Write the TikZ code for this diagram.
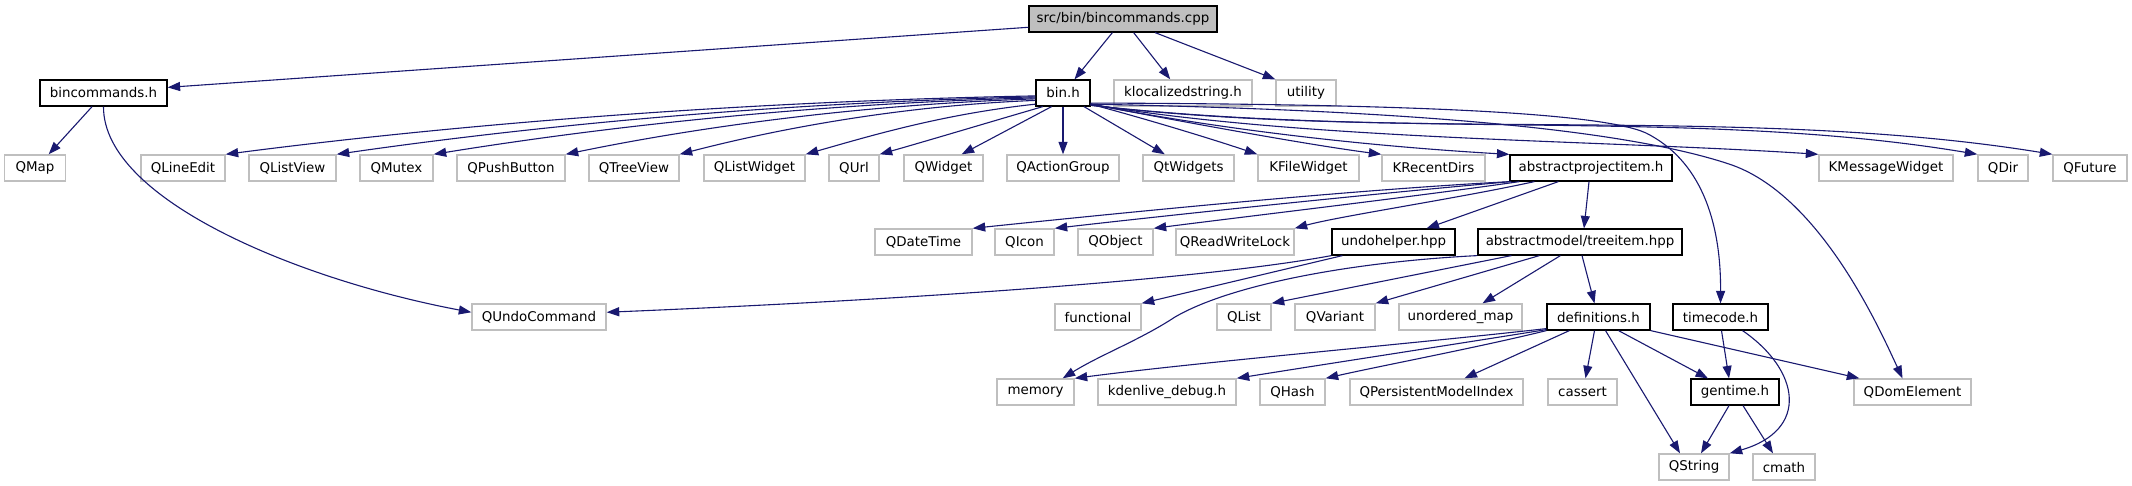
\documentclass[tikz,border=0pt]{standalone}
\usepackage{fontspec}
\setmainfont{DejaVu Sans}
\usetikzlibrary{arrows.meta}
\definecolor{edgec}{HTML}{191970}
\definecolor{greyb}{HTML}{BFBFBF}
\begin{document}
\begin{tikzpicture}[x=1pt,y=-1pt,
  nd/.style={draw=black, line width=1.2pt, minimum height=26pt, inner sep=0pt, fill=white, font=\fontsize{13.4}{16}\selectfont},
  ex/.style={nd, draw=greyb, line width=1.4pt},
  rt/.style={nd, fill=greyb},
  dep/.style={draw=edgec, line width=1.1pt, -{Triangle[length=12.5pt,width=9pt]}}]
\useasboundingbox[fill=white] (0,0) rectangle (2132,485);
% nodes
\node[rt, minimum width=188pt] (root) at (1123,19) {src/bin/bincommands.cpp};
\node[nd, minimum width=127pt] (bincmd) at (103.5,93) {bincommands.h};
\node[nd, minimum width=54pt] (binh) at (1063,93) {bin.h};
\node[ex, minimum width=138pt] (kloc) at (1183,93) {klocalizedstring.h};
\node[ex, minimum width=60pt] (util) at (1306,93) {utility};
\node[ex, minimum width=61pt] (qmap) at (35,168) {QMap};
\node[ex, minimum width=84pt] (qlineedit) at (183,168) {QLineEdit};
\node[ex, minimum width=87pt] (qlistview) at (292.5,168) {QListView};
\node[ex, minimum width=73pt] (qmutex) at (396.5,168) {QMutex};
\node[ex, minimum width=108pt] (qpushbutton) at (511,168) {QPushButton};
\node[ex, minimum width=90pt] (qtreeview) at (634,168) {QTreeView};
\node[ex, minimum width=101pt] (qlistwidget) at (754.5,168) {QListWidget};
\node[ex, minimum width=50pt] (qurl) at (854,168) {QUrl};
\node[ex, minimum width=79pt] (qwidget) at (943.5,168) {QWidget};
\node[ex, minimum width=112pt] (qactiongroup) at (1063,168) {QActionGroup};
\node[ex, minimum width=91pt] (qtwidgets) at (1188.5,168) {QtWidgets};
\node[ex, minimum width=101pt] (kfilewidget) at (1308.5,168) {KFileWidget};
\node[ex, minimum width=103pt] (krecentdirs) at (1433.5,168) {KRecentDirs};
\node[nd, minimum width=162pt] (api) at (1591,168) {abstractprojectitem.h};
\node[ex, minimum width=134pt] (kmessagewidget) at (1886,168) {KMessageWidget};
\node[ex, minimum width=50pt] (qdir) at (2003,168) {QDir};
\node[ex, minimum width=74pt] (qfuture) at (2090,168) {QFuture};
\node[ex, minimum width=97pt] (qdatetime) at (923.5,242) {QDateTime};
\node[ex, minimum width=59pt] (qicon) at (1024.5,242) {QIcon};
\node[ex, minimum width=75pt] (qobject) at (1115.5,242) {QObject};
\node[ex, minimum width=118pt] (qrwlock) at (1235,242) {QReadWriteLock};
\node[nd, minimum width=123pt] (undo) at (1393.5,242) {undohelper.hpp};
\node[nd, minimum width=204pt] (treeitem) at (1580,242) {abstractmodel/treeitem.hpp};
\node[ex, minimum width=134pt] (qundo) at (539,317) {QUndoCommand};
\node[ex, minimum width=86pt] (functional) at (1098,317) {functional};
\node[ex, minimum width=54pt] (qlist) at (1244,317) {QList};
\node[ex, minimum width=80pt] (qvariant) at (1335,317) {QVariant};
\node[ex, minimum width=123pt] (umap) at (1460.5,317) {unordered\_map};
\node[nd, minimum width=103pt] (defs) at (1598.5,317) {definitions.h};
\node[nd, minimum width=95pt] (timecode) at (1720.5,317) {timecode.h};
\node[ex, minimum width=77pt] (memory) at (1035.5,392) {memory};
\node[ex, minimum width=138pt] (kdebug) at (1167,392) {kdenlive\_debug.h};
\node[ex, minimum width=65pt] (qhash) at (1292.5,392) {QHash};
\node[ex, minimum width=173pt] (qpmi) at (1436.5,392) {QPersistentModelIndex};
\node[ex, minimum width=69pt] (cassert) at (1582.5,392) {cassert};
\node[nd, minimum width=88pt] (gentime) at (1735,392) {gentime.h};
\node[ex, minimum width=117pt] (qdom) at (1912.5,392) {QDomElement};
\node[ex, minimum width=70pt] (qstring) at (1694,467) {QString};
\node[ex, minimum width=62pt] (cmath) at (1784,467) {cmath};
% root edges
\draw[dep] (root.185) -- (bincmd.5);
\draw[dep] (root.232) -- (binh.50);
\draw[dep] (root.308) -- (kloc.133);
\draw[dep] (root.337) -- (util.156);
% bincommands.h
\draw[dep] (bincmd.230) -- (qmap.45);
\draw[dep] (bincmd.south) .. controls (103,200) and (300,280) .. (qundo.176);
% bin.h left
\draw[dep] (binh.186) .. controls (712,102) and (428,128) .. (qlineedit.north east);
\draw[dep] (binh.188) .. controls (756,103) and (512,129) .. (qlistview.north east);
\draw[dep] (binh.190) .. controls (795,104) and (584,130) .. (qmutex.north east);
\draw[dep] (binh.192) .. controls (848,105) and (683,130) .. (qpushbutton.north east);
\draw[dep] (binh.195) .. controls (894,106) and (769,131) .. (qtreeview.north east);
\draw[dep] (binh.202) .. controls (944,114) and (873,135) .. (qlistwidget.north east);
\draw[dep] (binh.214) .. controls (990,122) and (930,140) .. (qurl.north east);
\draw[dep] (binh.230) -- (qwidget.37);
\draw[dep] (binh.south) -- (qactiongroup.north);
% bin.h right
\draw[dep] (binh.327) -- (qtwidgets.150);
\draw[dep] (binh.338) .. controls (1150,120) and (1215,140) .. (kfilewidget.north west);
\draw[dep] (binh.338) .. controls (1200,125) and (1310,145) .. (krecentdirs.north west);
\draw[dep] (binh.338) .. controls (1250,135) and (1400,148) .. (api.north west);
\draw[dep] (binh.338) .. controls (1300,140) and (1600,140) .. (kmessagewidget.north west);
\draw[dep] (binh.336) .. controls (1400,140) and (1700,108) .. (qdir.north west);
\draw[dep] (binh.336) .. controls (1400,142) and (1750,105) .. (qfuture.north west);
\draw[dep] (binh.340) .. controls (1400,104) and (1600,112) .. (1646,133) .. controls (1700,160) and (1721,220) .. (timecode.north);
\draw[dep] (binh.338) .. controls (1400,110) and (1620,128) .. (1729,164) .. controls (1820,194) and (1880,330) .. ([xshift=-10pt]qdom.north);
% abstractprojectitem.h
\draw[dep] ([xshift=1pt]api.south west) .. controls (1350,190) and (1130,212) .. (qdatetime.north east);
\draw[dep] ([xshift=2pt]api.south west) .. controls (1380,193) and (1180,214) .. (qicon.north east);
\draw[dep] ([xshift=10pt]api.south west) .. controls (1420,196) and (1250,216) .. (qobject.north east);
\draw[dep] ([xshift=25pt]api.south west) .. controls (1460,198) and (1340,216) .. (qrwlock.north east);
\draw[dep] ([xshift=49pt]api.south west) -- ([xshift=33pt]undo.north);
\draw[dep] ([xshift=-2pt]api.south) -- ([xshift=4pt]treeitem.north);
% undohelper.hpp
\draw[dep] (undo.south west) .. controls (1200,280) and (900,300) .. (qundo.4);
\draw[dep] ([xshift=11pt]undo.south west) -- (functional.north east);
% treeitem.hpp
\draw[dep] (treeitem.south west) .. controls (1350,262) and (1230,285) .. (1175,317) .. controls (1140,340) and (1100,355) .. ([xshift=-12pt]memory.north east);
\draw[dep] ([xshift=34pt]treeitem.south west) -- (qlist.north east);
\draw[dep] ([xshift=62pt]treeitem.south west) -- (qvariant.north east);
\draw[dep] ([xshift=83pt]treeitem.south west) -- ([xshift=22pt]umap.north);
\draw[dep] ([xshift=2pt]treeitem.south) -- ([xshift=-4pt]defs.north);
% definitions.h
\draw[dep] ([yshift=2pt]defs.south west) .. controls (1400,345) and (1200,362) .. (memory.north east);
\draw[dep] ([yshift=1pt]defs.south west) .. controls (1450,345) and (1320,365) .. (kdebug.north east);
\draw[dep] (defs.south west) .. controls (1480,347) and (1380,366) .. (qhash.north east);
\draw[dep] ([xshift=23pt]defs.south west) -- ([xshift=28pt]qpmi.north);
\draw[dep] ([xshift=-4pt]defs.south) -- ([xshift=3pt]cassert.north);
\draw[dep] ([xshift=7pt]defs.south) -- ([xshift=-14pt]qstring.north);
\draw[dep] ([xshift=20pt]defs.south) -- ([xshift=-27pt]gentime.north);
\draw[dep] (defs.south east) -- ([xshift=6pt]qdom.north west);
% timecode.h
\draw[dep] ([xshift=1pt]timecode.south) -- ([xshift=-6pt]gentime.north);
\draw[dep] ([xshift=22pt]timecode.south) .. controls (1800,370) and (1810,430) .. (qstring.north east);
% gentime.h
\draw[dep] ([xshift=-6pt]gentime.south) -- ([xshift=7pt]qstring.north);
\draw[dep] ([xshift=8pt]gentime.south) -- ([xshift=-11pt]cmath.north);
\end{tikzpicture}
\end{document}
